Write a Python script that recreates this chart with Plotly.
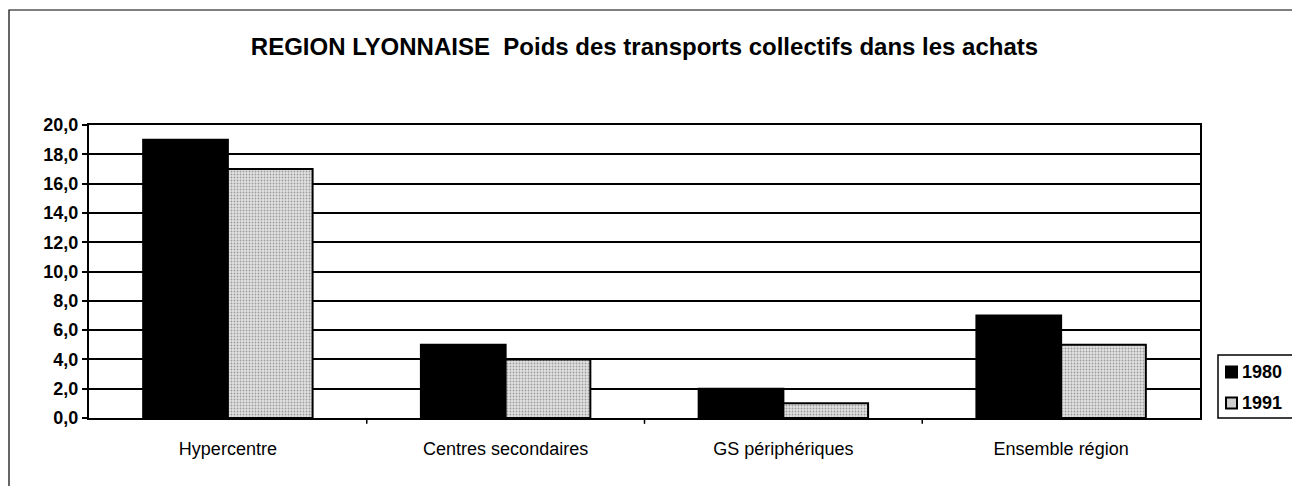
import plotly.graph_objects as go

categories = ["Hypercentre", "Centres secondaires", "GS périphériques", "Ensemble région"]
series_names = ["1980", "1991"]
values_1980 = [19.0, 5.0, 2.0, 7.0]
values_1991 = [17.0, 4.0, 1.0, 5.0]
y_ticks = [0, 2, 4, 6, 8, 10, 12, 14, 16, 18, 20]
y_tick_labels = ["0,0", "2,0", "4,0", "6,0", "8,0", "10,0", "12,0", "14,0", "16,0", "18,0", "20,0"]

FONT = "Liberation Sans, Arial"
PATTERN = dict(shape=".", fgcolor="#555555", bgcolor="#e2e2e2", size=3, solidity=0.3)

fig = go.Figure()
fig.add_trace(go.Bar(
    x=categories, y=values_1980, name=series_names[0],
    marker=dict(color="black", line=dict(color="black", width=2)),
))
fig.add_trace(go.Bar(
    x=categories, y=values_1991, name=series_names[1],
    marker=dict(color="#d9d9d9", line=dict(color="black", width=2), pattern=PATTERN),
))

# page has an 8px body margin; figure coordinates = screen - 8
W, H = 1292, 478
l, r, t, b = 81, 100, 117, 68
pw, ph = W - l - r, H - t - b

def px(x):
    return (x - l) / pw

def py(y):
    return (H - b - y) / ph

fig.update_layout(
    width=W, height=H,
    margin=dict(l=l, r=r, t=t, b=b, autoexpand=False),
    paper_bgcolor="white", plot_bgcolor="white",
    barmode="group", bargap=0.39, bargroupgap=0,
    font=dict(family=FONT, color="black", size=18),
    title=dict(text="<b>REGION LYONNAISE  Poids des transports collectifs dans les achats</b>",
               x=0.5, xref="paper", y=(H - 39) / H, yanchor="middle", xanchor="center",
               font=dict(size=24, family=FONT, color="black")),
    showlegend=False,
    xaxis=dict(showline=True, linecolor="black", linewidth=2, mirror=True,
               ticks="", showgrid=False, tickfont=dict(size=18, family=FONT),
               ticklabelstandoff=13),
    yaxis=dict(range=[0, 20], tickvals=y_ticks,
               ticktext=["<b>" + s + "</b>" for s in y_tick_labels],
               showline=True, linecolor="black", linewidth=2, mirror=True,
               ticks="outside", ticklen=5, tickcolor="black", tickwidth=1.5,
               showgrid=True, gridcolor="black", gridwidth=1.5,
               tickfont=dict(size=18, family=FONT),
               zeroline=False),
)

# category boundary tick marks on the x axis
for i in range(1, len(categories)):
    fig.add_shape(type="line", xref="x", yref="paper",
                  x0=i - 0.5, x1=i - 0.5, y0=0, y1=-0.02,
                  line=dict(color="black", width=1.5))

# outer frame
fig.add_shape(type="rect", xref="paper", yref="paper",
              x0=px(1), x1=px(1300), y0=py(2), y1=py(500),
              line=dict(color="black", width=1.2), fillcolor="rgba(0,0,0,0)", layer="below")

# legend (drawn manually to fit the narrow box)
fig.add_shape(type="rect", xref="paper", yref="paper",
              x0=px(1210), x1=px(1289), y0=py(347), y1=py(410),
              line=dict(color="black", width=1.5), fillcolor="white")
legend_fills = [dict(fillcolor="black"), dict(fillcolor="#d0d0d0")]
for k, name in enumerate(series_names):
    yc = 364 + 31 * k
    fig.add_shape(type="rect", xref="paper", yref="paper",
                  x0=px(1218), x1=px(1229), y0=py(yc + 5.5), y1=py(yc - 5.5),
                  line=dict(color="black", width=2), **legend_fills[k])
    fig.add_annotation(xref="paper", yref="paper", x=px(1232), y=py(yc),
                       xanchor="left", yanchor="middle", showarrow=False,
                       text="<b>" + name + "</b>",
                       font=dict(size=18, family=FONT, color="black"))

fig.write_html("out.html")
